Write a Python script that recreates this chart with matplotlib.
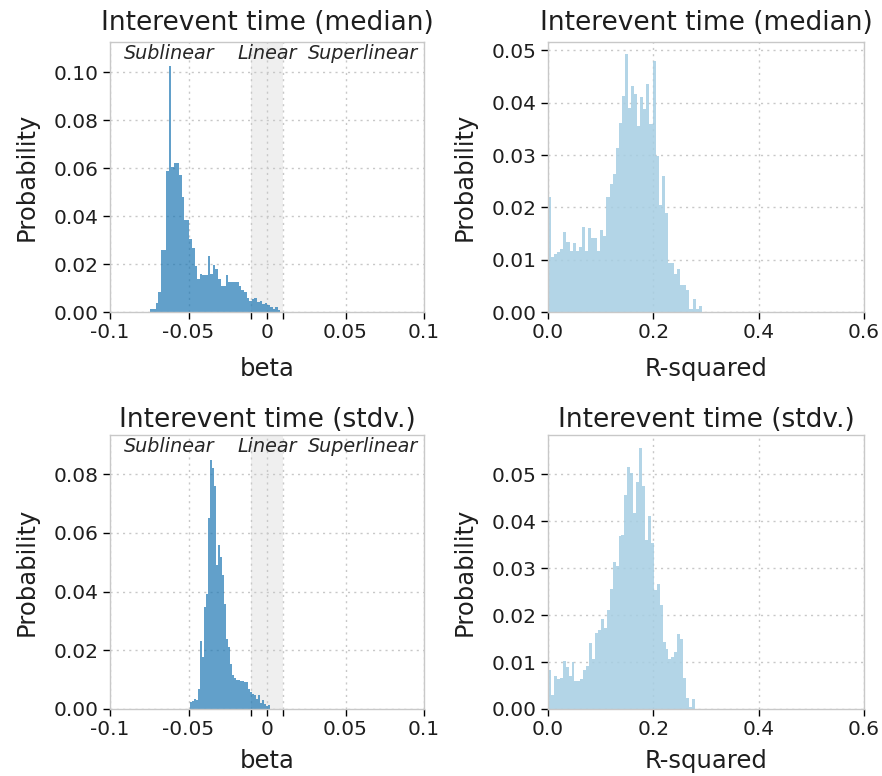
import numpy as np
import matplotlib
matplotlib.use("Agg")
import matplotlib.pyplot as plt
from matplotlib.transforms import blended_transform_factory

# ---- histogram data (probability per bin) ----
beta_median_range = (-0.0743, 0.0085)
beta_median_prob = [0.0012, 0.0012, 0.0037, 0.0083, 0.026, 0.026, 0.0586, 0.1026, 0.0603, 0.062,
                    0.062, 0.057, 0.048, 0.0385, 0.0385, 0.0306, 0.0267, 0.019, 0.0138, 0.0158,
                    0.0156, 0.0156, 0.0235, 0.0158, 0.0194, 0.018, 0.0138, 0.0107, 0.0107, 0.0154,
                    0.0124, 0.0124, 0.0124, 0.0124, 0.0107, 0.0093, 0.0083, 0.0058, 0.0047, 0.0054,
                    0.006, 0.004, 0.0047, 0.0033, 0.0036, 0.0028, 0.0019, 0.0013, 0.0019, 0.0008]

r2_median_range = (0.0, 0.292)
r2_median_prob = [0.022, 0.0105, 0.011, 0.0115, 0.012, 0.0153, 0.0134, 0.0117, 0.0131, 0.0117,
                  0.0124, 0.0163, 0.0117, 0.016, 0.0142, 0.0142, 0.0117, 0.0157, 0.0145, 0.0219,
                  0.0244, 0.0263, 0.0314, 0.0362, 0.0413, 0.0494, 0.0389, 0.0432, 0.0417, 0.0356,
                  0.0411, 0.0388, 0.0435, 0.0359, 0.048, 0.0298, 0.0205, 0.0259, 0.019, 0.0094,
                  0.0094, 0.0072, 0.0083, 0.0052, 0.0052, 0.0042, 0.0005, 0.0024, 0.0005, 0.0012]

beta_stdv_range = (-0.0493, 0.0017)
beta_stdv_prob = [0.0024, 0.0028, 0.0035, 0.003, 0.0069, 0.0232, 0.0177, 0.0348, 0.0393, 0.0652,
                  0.0848, 0.082, 0.0759, 0.049, 0.0558, 0.0518, 0.0456, 0.0359, 0.024, 0.0211,
                  0.0155, 0.0115, 0.0107, 0.0098, 0.0098, 0.0094, 0.0094, 0.0092, 0.0092, 0.0069,
                  0.0057, 0.0052, 0.0047, 0.0035, 0.0047, 0.002, 0.003, 0.0018, 0.0009, 0.0013]

r2_stdv_range = (0.0, 0.279)
r2_stdv_prob = [0.0084, 0.0029, 0.0071, 0.0064, 0.0067, 0.0102, 0.009, 0.0071, 0.01, 0.0059,
                0.0059, 0.0063, 0.0084, 0.0091, 0.0141, 0.0107, 0.0161, 0.0169, 0.0192, 0.0173,
                0.0211, 0.0255, 0.0312, 0.0304, 0.0368, 0.0371, 0.0456, 0.0515, 0.0502, 0.0417,
                0.0482, 0.0555, 0.0474, 0.036, 0.0411, 0.0353, 0.0253, 0.0267, 0.0221, 0.0143,
                0.0127, 0.0107, 0.011, 0.0121, 0.0159, 0.015, 0.0065, 0.0024, 0.0004, 0.0022]

titles = ["Interevent time (median)", "Interevent time (median)",
          "Interevent time (stdv.)", "Interevent time (stdv.)"]

beta_ticks = [-0.1, -0.05, -0.01, 0, 0.01, 0.05, 0.1]
beta_ticklabels = ["-0.1", "-0.05", "", "0", "", "0.05", "0.1"]
r2_ticks = [0.0, 0.2, 0.4, 0.6]
r2_ticklabels = ["0.0", "0.2", "0.4", "0.6"]

regime_labels = ["Sublinear", "Linear", "Superlinear"]
regime_pos = [-0.0625, 0.0, 0.061]

yticks_tl = [0.0, 0.02, 0.04, 0.06, 0.08, 0.10]
yticks_tr = [0.0, 0.01, 0.02, 0.03, 0.04, 0.05]
yticks_bl = [0.0, 0.02, 0.04, 0.06, 0.08]
yticks_br = [0.0, 0.01, 0.02, 0.03, 0.04, 0.05]

BETA_COLOR = "#1f78b4"
R2_COLOR = "#a6cee3"
TEXT = "#1e1e1e"

plt.rcParams["font.family"] = ["DejaVu Sans"]

fig = plt.figure(figsize=(8.82, 7.76), dpi=100)
W, H = 882.0, 776.0


def frac_axes(l, t, r, b):
    return fig.add_axes([l / W, 1 - b / H, (r - l) / W, (b - t) / H])


ax_tl = frac_axes(110, 42, 424, 312)
ax_tr = frac_axes(548, 42, 864, 312)
ax_bl = frac_axes(110, 435, 424, 709)
ax_br = frac_axes(548, 435, 864, 709)


def style(ax, yticks, ylim):
    for s in ax.spines.values():
        s.set_color("#c8c8c8")
        s.set_linewidth(1.0)
    ax.set_axisbelow(True)
    ax.grid(True, linestyle=(0, (1.5, 3)), color="#c8c8c8", linewidth=1.0)
    ax.set_yticks(yticks)
    ax.set_yticklabels([f"{v:.2f}" for v in yticks])
    ax.set_ylim(*ylim)
    ax.tick_params(axis="both", direction="out", length=5, width=1, color="black",
                   labelsize=14.5, labelcolor=TEXT, pad=3)
    ax.set_ylabel("Probability", fontsize=17.5, color=TEXT, labelpad=11)


def beta_panel(ax, rng, probs, title, yticks, ylim, tpad, xpad):
    edges = np.linspace(rng[0], rng[1], len(probs) + 1)
    ax.axvspan(-0.01, 0.01, color="#ebebeb", alpha=0.8, lw=0, zorder=0.5)
    ax.hist(edges[:-1], bins=edges, weights=probs, color=BETA_COLOR, alpha=0.7,
            histtype="stepfilled", lw=0, zorder=2)
    ax.set_xlim(-0.1, 0.1)
    ax.set_xticks(beta_ticks)
    ax.set_xticklabels(beta_ticklabels)
    style(ax, yticks, ylim)
    ax.set_xlabel("beta", fontsize=17.5, color=TEXT, labelpad=xpad)
    ax.set_title(title, fontsize=19, color=TEXT, pad=tpad)
    trans = blended_transform_factory(ax.transData, ax.transAxes)
    for lab, x in zip(regime_labels, regime_pos):
        ax.text(x, 0.958, lab, transform=trans, ha="center", va="center",
                style="italic", fontsize=13.8, color="#262626", zorder=3)


def r2_panel(ax, rng, probs, title, yticks, ylim, tpad, xpad):
    edges = np.linspace(rng[0], rng[1], len(probs) + 1)
    ax.hist(edges[:-1], bins=edges, weights=probs, color=R2_COLOR, alpha=0.85,
            histtype="stepfilled", lw=0, zorder=2)
    ax.set_xlim(0, 0.6)
    ax.set_xticks(r2_ticks)
    ax.set_xticklabels(r2_ticklabels)
    style(ax, yticks, ylim)
    ax.set_xlabel("R-squared", fontsize=17.5, color=TEXT, labelpad=xpad)
    ax.set_title(title, fontsize=19, color=TEXT, pad=tpad)


beta_panel(ax_tl, beta_median_range, beta_median_prob, titles[0], yticks_tl, (0, 0.1125), 9, 11)
r2_panel(ax_tr, r2_median_range, r2_median_prob, titles[1], yticks_tr, (0, 0.0516), 9, 11)
beta_panel(ax_bl, beta_stdv_range, beta_stdv_prob, titles[2], yticks_bl, (0, 0.0934), 6, 7)
r2_panel(ax_br, r2_stdv_range, r2_stdv_prob, titles[3], yticks_br, (0, 0.0583), 6, 7)

fig.savefig("out.png", dpi=100)
